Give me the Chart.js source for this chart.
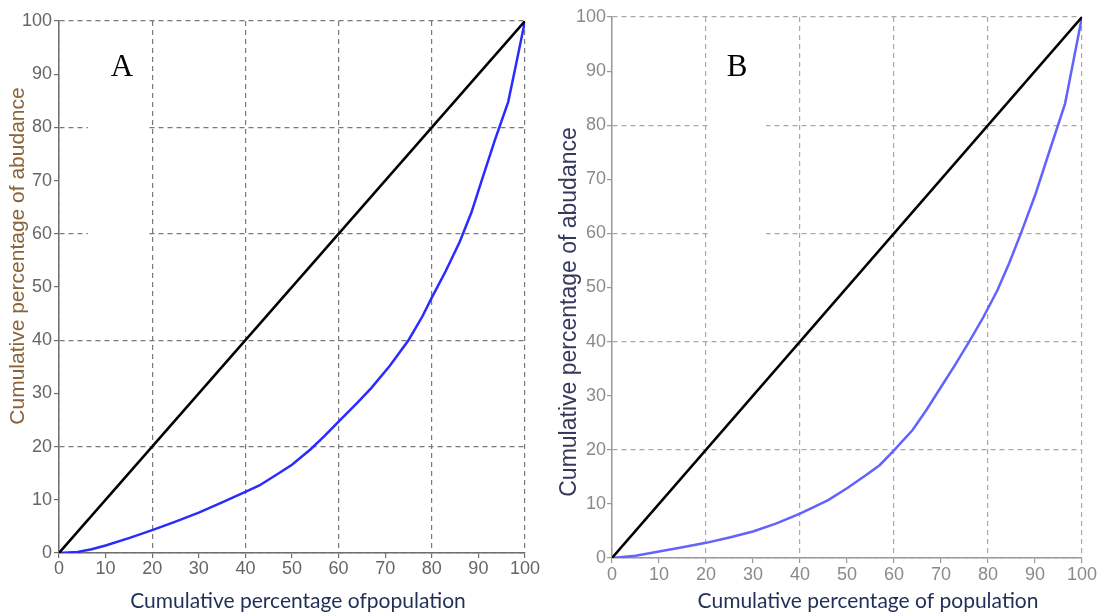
<!DOCTYPE html>
<html>
<head>
<meta charset="utf-8">
<script src="https://cdn.jsdelivr.net/npm/chart.js@4.4.1/dist/chart.umd.min.js"></script>
<style>
    html, body { margin: 0; padding: 0; background: #fff; }
    .panel { position: absolute; top: 0; height: 614px; }
    #panel-a { left: 0; width: 540px; }
    #panel-b { left: 540px; width: 564px; }
</style>
</head>
<body>
<div class="panel" id="panel-a"><canvas id="chart-a"></canvas></div>
<div class="panel" id="panel-b"><canvas id="chart-b"></canvas></div>
<script>
// Line of equality (both panels)
const equalityX = [0, 100];
const equalityY = [0, 100];

// Panel A - cumulative % of population vs cumulative % of abundance
const popA = [0, 4, 7, 10, 15, 20, 25, 30, 35, 40, 43, 47, 50, 54, 57, 60, 64, 67, 71, 75, 78, 80, 83, 86, 88.5, 90.7, 93.5, 96.4, 98, 100];
const abundA = [0, 0.2, 0.7, 1.4, 2.8, 4.3, 5.9, 7.6, 9.5, 11.5, 12.7, 14.9, 16.6, 19.5, 22, 24.7, 28.2, 31, 35.2, 40, 44.5, 48, 53, 58.5, 64, 70, 77.5, 84.8, 91.5, 100];

// Panel B
const popB = [0, 5, 10, 15, 20, 25, 30, 35, 40, 46, 50, 54, 57, 60, 64, 67, 70, 73, 76, 79, 82, 84.5, 87, 90, 93, 96.4, 98.2, 100];
const abundB = [0, 0.4, 1.2, 2, 2.8, 3.8, 4.9, 6.4, 8.2, 10.7, 12.9, 15.3, 17.2, 19.9, 23.7, 27.5, 31.6, 35.7, 40, 44.5, 49.5, 54.5, 60, 67, 75, 84, 92, 100];

const axisTicks = [0, 10, 20, 30, 40, 50, 60, 70, 80, 90, 100];

const toPoints = (xs, ys) => xs.map((x, i) => ({ x: x, y: ys[i] }));

// Letter tag in the upper left of each plot, on a white box
const panelLabel = {
    id: 'panelLabel',
    beforeDatasetsDraw: function(chart, args, opts) {
        const ctx = chart.ctx;
        ctx.save();
        ctx.fillStyle = '#ffffff';
        ctx.fillRect(opts.box[0], opts.box[1], opts.box[2], opts.box[3]);
        ctx.fillStyle = '#000000';
        ctx.font = '31px "Liberation Serif", "Times New Roman", serif';
        ctx.textAlign = 'center';
        ctx.textBaseline = 'middle';
        ctx.fillText(opts.text, opts.x, opts.y);
        ctx.restore();
    }
};

// Axis captions placed at fixed spots (the scales keep a fixed size)
const axisCaptions = {
    id: 'axisCaptions',
    afterDraw: function(chart, args, opts) {
        const ctx = chart.ctx;
        ctx.save();
        ctx.textAlign = 'center';
        ctx.textBaseline = 'middle';

        ctx.fillStyle = '#1f2f55';
        ctx.font = '21px Lato, "Open Sans", sans-serif';
        ctx.fillText(opts.x.text, opts.x.cx, opts.x.cy);

        ctx.translate(opts.y.cx, opts.y.cy);
        ctx.rotate(-Math.PI / 2);
        ctx.fillStyle = opts.y.color;
        ctx.font = opts.y.size + 'px "Liberation Sans", Arial, sans-serif';
        ctx.fillText(opts.y.text, 0, 0);
        ctx.restore();
    }
};

function makeChart(canvasId, cfg) {
    const grid20 = (c) => (c.tick && c.tick.value % 20 === 0) ? cfg.gridColor : 'rgba(0,0,0,0)';
    const tickFont = { family: '"Liberation Sans Narrow", "Arial Narrow", "Liberation Sans", sans-serif', size: 18 };

    return new Chart(document.getElementById(canvasId), {
        type: 'line',
        data: {
            datasets: [
                {
                    data: toPoints(equalityX, equalityY),
                    borderColor: '#000000',
                    borderWidth: 2.5,
                    pointRadius: 0,
                    tension: 0
                },
                {
                    data: toPoints(cfg.xs, cfg.ys),
                    borderColor: cfg.curveColor,
                    borderWidth: 2.5,
                    pointRadius: 0,
                    tension: 0
                }
            ]
        },
        options: {
            responsive: true,
            maintainAspectRatio: false,
            animation: false,
            events: [],
            layout: { padding: cfg.padding },
            plugins: {
                legend: { display: false },
                tooltip: { enabled: false },
                panelLabel: cfg.label,
                axisCaptions: cfg.captions
            },
            scales: {
                x: {
                    type: 'linear',
                    min: 0,
                    max: 100,
                    afterBuildTicks: (scale) => { scale.ticks = axisTicks.map(v => ({ value: v })); },
                    afterFit: (scale) => { scale.height = cfg.xHeight; },
                    ticks: { color: cfg.tickColor, font: tickFont, padding: cfg.xTickPad, maxRotation: 0 },
                    grid: { color: grid20, lineWidth: 1.2, tickColor: cfg.axisColor, tickLength: 5 },
                    border: { color: cfg.axisColor, width: 1.5, dash: [5, 4] }
                },
                y: {
                    type: 'linear',
                    min: 0,
                    max: 100,
                    afterBuildTicks: (scale) => { scale.ticks = axisTicks.map(v => ({ value: v })); },
                    afterFit: (scale) => { scale.width = cfg.yWidth; },
                    ticks: { color: cfg.tickColor, font: tickFont, padding: cfg.yTickPad },
                    grid: { color: grid20, lineWidth: 1.2, tickColor: cfg.axisColor, tickLength: 5 },
                    border: { color: cfg.axisColor, width: 1.5, dash: [5, 4] }
                }
            }
        },
        plugins: [panelLabel, axisCaptions]
    });
}

makeChart('chart-a', {
    xs: popA,
    ys: abundA,
    curveColor: '#2b2bff',
    gridColor: '#7a7a7a',
    axisColor: '#6e6e6e',
    tickColor: '#666666',
    padding: { top: 21, right: 15, left: 0, bottom: 0 },
    xHeight: 61,
    yWidth: 59,
    xTickPad: 0,
    yTickPad: 2,
    label: { text: 'A', x: 122, y: 68, box: [88, 30, 58, 215] },
    captions: {
        x: { text: 'Cumulative percentage ofpopulation', cx: 298, cy: 601 },
        y: { text: 'Cumulative percentage of abudance', cx: 18, cy: 256, size: 21, color: '#8a6438' }
    }
});

makeChart('chart-b', {
    xs: popB,
    ys: abundB,
    curveColor: '#6262ff',
    gridColor: '#a8a8a8',
    axisColor: '#9a9a9a',
    tickColor: '#8a8a8a',
    padding: { top: 17, right: 22, left: 0, bottom: 0 },
    xHeight: 56,
    yWidth: 72,
    xTickPad: 1,
    yTickPad: 1,
    label: { text: 'B', x: 197, y: 68, box: [168, 30, 58, 215] },
    captions: {
        x: { text: 'Cumulative percentage of population', cx: 328, cy: 601 },
        y: { text: 'Cumulative percentage of abudance', cx: 30, cy: 312, size: 23, color: '#34385a' }
    }
});
</script>
</body>
</html>
